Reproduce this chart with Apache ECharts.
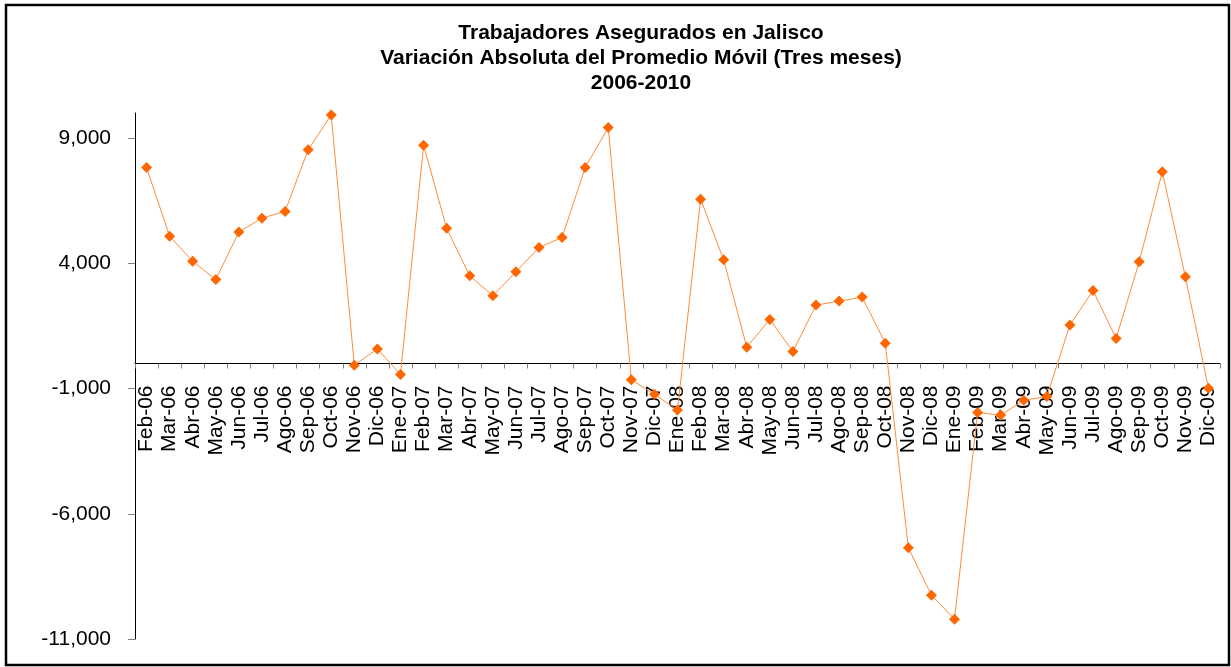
<!DOCTYPE html>
<html>
<head>
<meta charset="utf-8">
<script src="https://cdn.jsdelivr.net/npm/echarts@6/dist/echarts.min.js"></script>
<style>
html,body{margin:0;padding:0;background:#fff;}
#chart{width:1231px;height:667px;}
</style>
</head>
<body>
<div id="chart"></div>
<script>
var categories = [
  'Feb-06','Mar-06','Abr-06','May-06','Jun-06','Jul-06','Ago-06','Sep-06','Oct-06','Nov-06','Dic-06',
  'Ene-07','Feb-07','Mar-07','Abr-07','May-07','Jun-07','Jul-07','Ago-07','Sep-07','Oct-07','Nov-07','Dic-07',
  'Ene-08','Feb-08','Mar-08','Abr-08','May-08','Jun-08','Jul-08','Ago-08','Sep-08','Oct-08','Nov-08','Dic-08',
  'Ene-09','Feb-09','Mar-09','Abr-09','May-09','Jun-09','Jul-09','Ago-09','Sep-09','Oct-09','Nov-09','Dic-09'
];
var variacion = [
  7820, 5080, 4080, 3350, 5250, 5800, 6070, 8530, 9920, -70, 580,
  -440, 8710, 5400, 3500, 2700, 3660, 4630, 5030, 7820, 9420, -650, -1230,
  -1860, 6560, 4140, 650, 1760, 480, 2330, 2490, 2650, 810, -7360, -9250,
  -10210, -1960, -2060, -1470, -1320, 1540, 2910, 1000, 4060, 7650, 3460, -990
];
var yTicks = [-11000, -6000, -1000, 4000, 9000];
var titleLines = [
  'Trabajadores Asegurados en Jalisco',
  'Variación Absoluta del Promedio Móvil (Tres meses)',
  '2006-2010'
];

var yMin = -11000, yMax = 10000;
var gridTop = 113, gridBottom = 28, H = 667;
var plotH = H - gridTop - gridBottom;
// shift the category axis from the grid bottom up to the value 0
var zeroOffset = -plotH * (0 - yMin) / (yMax - yMin);

var chart = echarts.init(document.getElementById('chart'), null, {renderer: 'canvas'});
var font = 'Arial, "Liberation Sans", sans-serif';
chart.setOption({
  animation: false,
  backgroundColor: '#fff',
  title: {
    text: titleLines.join('\n'),
    left: 636,
    textAlign: 'center',
    top: 16,
    textStyle: {fontFamily: font, fontWeight: 'bold', fontSize: 21, lineHeight: 25, color: '#000'}
  },
  graphic: [{
    type: 'rect',
    shape: {x: 6, y: 5, width: 1223, height: 660},
    style: {fill: 'none', stroke: '#000', lineWidth: 2.5},
    silent: true,
    z: 100
  }],
  grid: {left: 135, right: 11, top: gridTop, bottom: gridBottom, containLabel: false, outerBoundsMode: 'none'},
  xAxis: {
    type: 'category',
    data: categories,
    boundaryGap: true,
    position: 'bottom',
    offset: zeroOffset,
    axisLine: {onZero: false, lineStyle: {color: '#000', width: 1}},
    axisTick: {show: true, length: 5, inside: false, interval: 0, lineStyle: {color: '#808080'}},
    axisLabel: {rotate: 90, interval: 0, margin: 22, fontFamily: font, fontSize: 21, color: '#000', hideOverlap: false},
    splitLine: {show: false}
  },
  yAxis: {
    type: 'value',
    min: yMin,
    max: yMax,
    interval: 5000,
    axisLine: {show: true, lineStyle: {color: '#000', width: 1}},
    axisTick: {show: true, length: 7, customValues: yTicks, lineStyle: {color: '#808080'}},
    axisLabel: {
      customValues: yTicks,
      margin: 24,
      fontFamily: font, fontSize: 21, color: '#000',
      formatter: function (v) { return v.toLocaleString('en-US'); }
    },
    splitLine: {show: false}
  },
  series: [{
    type: 'line',
    data: variacion,
    symbol: 'diamond',
    symbolSize: 11,
    showAllSymbol: true,
    itemStyle: {color: '#FF6600'},
    lineStyle: {color: '#FF8C3C', width: 1}
  }]
});
</script>
</body>
</html>
